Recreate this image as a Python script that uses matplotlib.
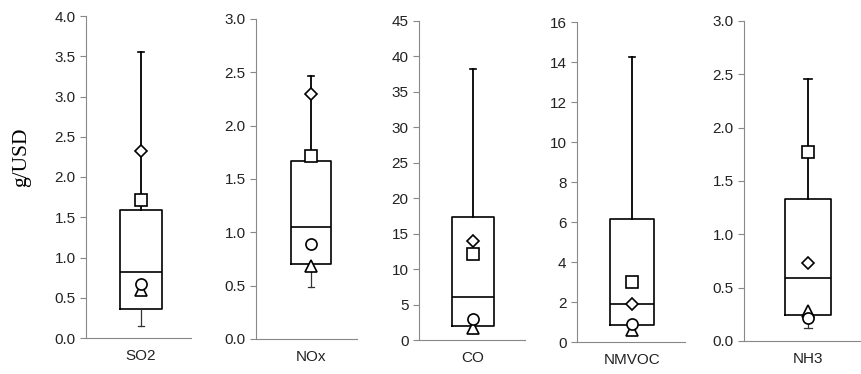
import numpy as np
import matplotlib.pyplot as plt

plt.rcParams['font.family'] = ['Liberation Sans', 'DejaVu Sans']

pollutants = ['SO2', 'NOx', 'CO', 'NMVOC', 'NH3']

# box statistics
whisk_lo = [0.15, 0.49, 1.0, 0.5, 0.12]
q1 = [0.36, 0.70, 2.0, 0.85, 0.24]
median = [0.82, 1.05, 6.1, 1.9, 0.59]
q3 = [1.59, 1.67, 17.4, 6.15, 1.33]
whisk_hi = [3.55, 2.47, 38.2, 14.25, 2.46]

# individual estimates shown as markers
diamond = [2.32, 2.30, 13.9, 1.88, 0.73]
square = [1.72, 1.72, 12.1, 3.0, 1.77]
circle = [0.67, 0.89, 3.0, 0.9, 0.22]
triangle = [0.60, 0.68, 1.7, 0.6, 0.28]

y_max = [4.0, 3.0, 45, 16, 3.0]
y_step = [0.5, 0.5, 5, 2, 0.5]
y_fmt = ['{:.1f}', '{:.1f}', '{:.0f}', '{:.0f}', '{:.1f}']

# axes placement in pixels: (left spine, right end, box center)
panels = [(86, 191, 141), (256, 357, 311), (419, 525, 473), (577, 685, 632), (744, 861, 808)]
tops = [16, 19, 21, 22, 21]
bottoms = [338, 339, 340, 342, 341]

W, H = 861, 374
fig = plt.figure(figsize=(W / 100, H / 100), dpi=100)

for i, name in enumerate(pollutants):
    left, right, center = panels[i]
    ax = fig.add_axes([left / W, (H - bottoms[i]) / H, (right - left) / W, (bottoms[i] - tops[i]) / H])
    pos = (center - left) / (right - left)
    stats = [{'med': median[i], 'q1': q1[i], 'q3': q3[i],
              'whislo': whisk_lo[i], 'whishi': whisk_hi[i], 'fliers': []}]
    bp = ax.bxp(stats, positions=[pos], widths=[0.40], showfliers=False,
                boxprops=dict(color='black', linewidth=1.2),
                medianprops=dict(color='black', linewidth=1.2),
                whiskerprops=dict(color='black', linewidth=1.3),
                capprops=dict(color='black', linewidth=1.2), capwidths=[0.06])
    # lower whisker is drawn lighter in the original
    bp['whiskers'][0].set_linewidth(0.9)
    bp['whiskers'][0].set_color('#333333')
    bp['caps'][0].set_linewidth(0.9)
    bp['caps'][0].set_color('#333333')
    mk = dict(markerfacecolor='white', markeredgecolor='black', markeredgewidth=1.2,
              linestyle='none', zorder=5)
    ax.plot([pos], [diamond[i]], marker='D', markersize=6, **mk)
    ax.plot([pos], [square[i]], marker='s', markersize=8, **mk)
    ax.plot([pos], [triangle[i]], marker='^', markersize=8, **mk)
    ax.plot([pos], [circle[i]], marker='o', markersize=8, **mk)

    ax.set_xlim(0, 1)
    ax.set_ylim(0, y_max[i])
    ticks = np.arange(0, y_max[i] + y_step[i] / 2, y_step[i])
    ax.set_yticks(ticks)
    ax.set_yticklabels([y_fmt[i].format(t) for t in ticks])
    ax.set_xticks([pos])
    ax.set_xticklabels([name])
    ax.tick_params(axis='x', length=0, pad=8, labelsize=11, labelcolor='#222222')
    ax.tick_params(axis='y', length=4, width=0.8, color='#888888', labelsize=11,
                   labelcolor='#222222')
    for s in ['top', 'right']:
        ax.spines[s].set_visible(False)
    for s in ['left', 'bottom']:
        ax.spines[s].set_color('#888888')
        ax.spines[s].set_linewidth(0.8)
    ax.patch.set_alpha(0)
    if i == 0:
        ax.set_ylabel('g/USD', family=['Liberation Serif', 'DejaVu Serif'], fontsize=15.5)
        ax.yaxis.set_label_coords(-0.52, 0.56)

fig.savefig('out.png', dpi=100)
